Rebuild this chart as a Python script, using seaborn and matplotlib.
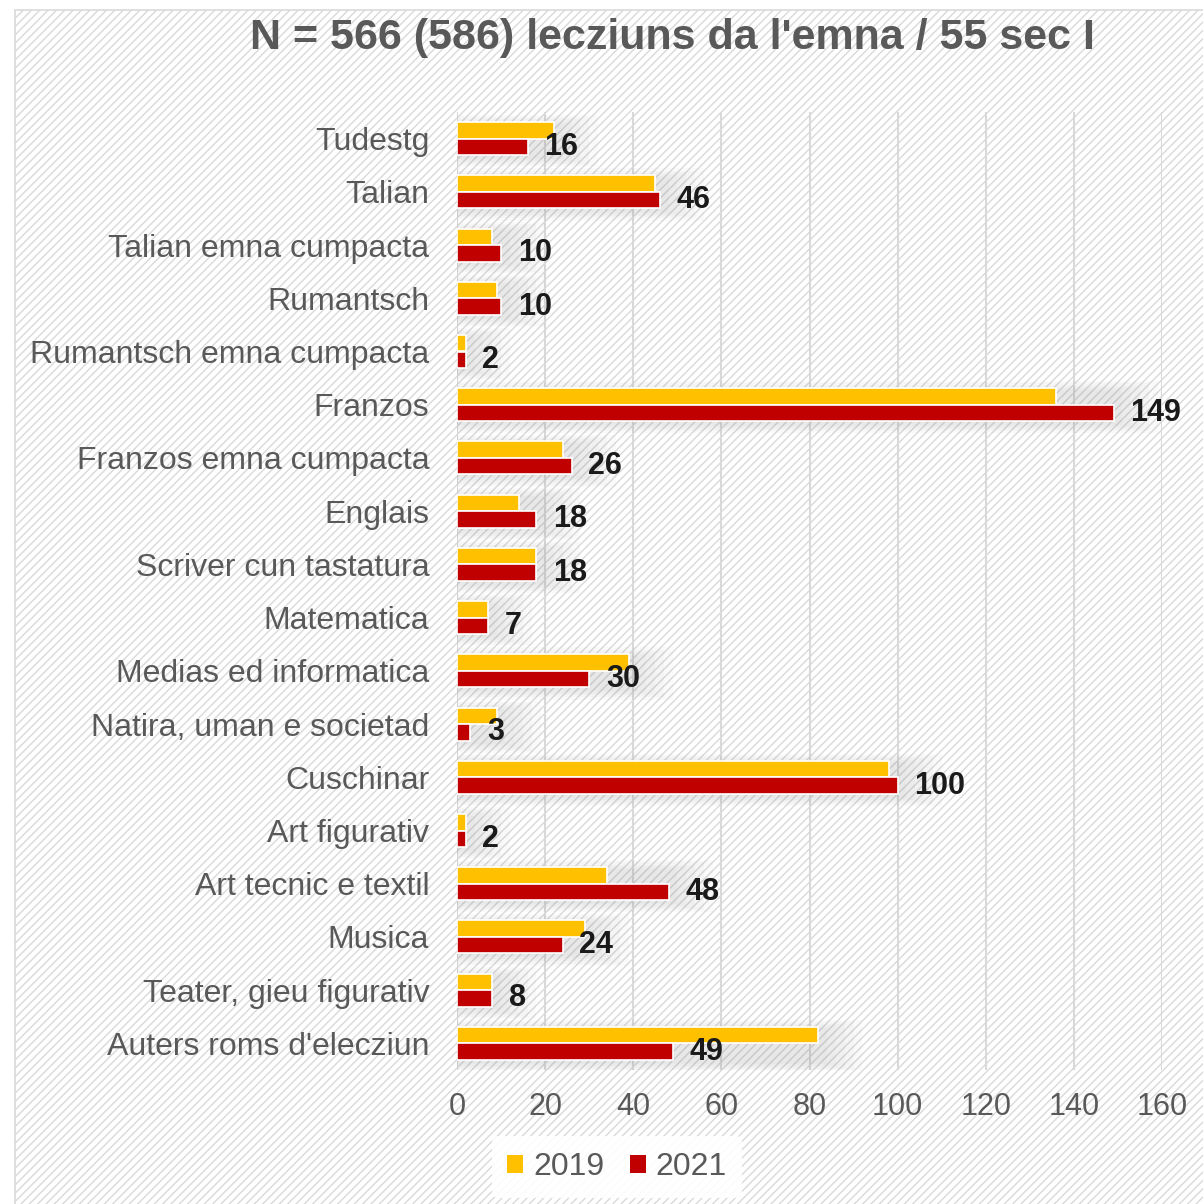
import seaborn as sns
import matplotlib.pyplot as plt
import matplotlib.patches as mpatches
import pandas as pd

categories = [
    "Tudestg", "Talian", "Talian emna cumpacta", "Rumantsch",
    "Rumantsch emna cumpacta", "Franzos", "Franzos emna cumpacta", "Englais",
    "Scriver cun tastatura", "Matematica", "Medias ed informatica",
    "Natira, uman e societad", "Cuschinar", "Art figurativ",
    "Art tecnic e textil", "Musica", "Teater, gieu figurativ",
    "Auters roms d'elecziun",
]
values_2019 = [22, 45, 8, 9, 2, 136, 24, 14, 18, 7, 39, 9, 98, 2, 34, 29, 8, 82]
values_2021 = [16, 46, 10, 10, 2, 149, 26, 18, 18, 7, 30, 3, 100, 2, 48, 24, 8, 49]
years = ["2019", "2021"]
colors = {"2019": "#FFC000", "2021": "#C00000"}
x_ticks = [0, 20, 40, 60, 80, 100, 120, 140, 160]
title = "N = 566 (586) lecziuns da l'emna / 55 sec I"


def main():
    df = pd.DataFrame({
        "fach": categories * 2,
        "year": [years[0]] * len(categories) + [years[1]] * len(categories),
        "value": values_2019 + values_2021,
    })

    sns.set_style("white")
    plt.rcParams["font.family"] = ["Liberation Sans", "DejaVu Sans"]
    plt.rcParams["hatch.linewidth"] = 1.0
    plt.rcParams["hatch.color"] = "#f1f1f1"

    fig = plt.figure(figsize=(12.03, 12.04), dpi=100)
    fig.patch.set_facecolor("white")

    # hatched background + outer frame, in its own axes behind everything
    bg_ax = fig.add_axes([0, 0, 1, 1], zorder=-1)
    bg_ax.set_axis_off()
    bg_ax.set_xlim(0, 1)
    bg_ax.set_ylim(0, 1)
    bg_ax.add_patch(mpatches.Rectangle((15 / 1203, -0.01), 1.0, 1.01 - 10 / 1204,
                                       facecolor="white", edgecolor="#d9d9d9",
                                       hatch="////", lw=1.2))

    ax = fig.add_axes([457 / 1203, 1 - 1070 / 1204, (1162 - 457) / 1203, (1070 - 112) / 1204])
    ax.set_facecolor("none")

    # soft glow behind each bar group
    for i, (a, b) in enumerate(zip(values_2019, values_2021)):
        m = max(a, b)
        for k in range(5):
            ax.add_patch(mpatches.Rectangle((0, i - 0.33 - 0.04 * k + 0.05),
                                            m + 2 + 2.0 * k, 0.66 + 0.08 * k,
                                            facecolor="#7f7f7f", edgecolor="none",
                                            alpha=0.035, zorder=1))

    sns.barplot(data=df, y="fach", x="value", hue="year", palette=colors,
                orient="h", width=0.62, edgecolor="white", linewidth=1.2,
                saturation=1, ax=ax, zorder=3)

    ax.set_xlim(0, 160)
    ax.set_ylim(len(categories) - 0.5, -0.5)
    ax.set_xticks(x_ticks)
    ax.xaxis.grid(True, color="#d9d9d9", lw=1.5, zorder=0)
    ax.set_axisbelow(True)
    for s in ax.spines.values():
        s.set_visible(False)

    ax.tick_params(axis="y", length=0, pad=20, labelsize=23, labelcolor="#595959")
    ax.tick_params(axis="x", length=0, pad=16, labelsize=22, labelcolor="#595959")
    ax.set_xlabel("")
    ax.set_ylabel("")

    # data labels on the 2021 bars
    ax.bar_label(ax.containers[1], labels=[str(v) for v in values_2021],
                 padding=12, fontsize=22, fontweight="bold", color="#1a1a1a")

    fig.text(672 / 1203, 1 - 38 / 1204, title, ha="center", va="center",
             fontsize=31, fontweight="bold", color="#595959")

    handles = [mpatches.Patch(facecolor=colors[y], edgecolor="none") for y in years]
    leg = fig.legend(handles, years, loc="center", bbox_to_anchor=(617 / 1203, 1 - 1167 / 1204),
                     ncol=2, frameon=True, fontsize=23, handlelength=0.5, handleheight=0.5,
                     handletextpad=0.3, columnspacing=0.8, borderpad=0.5)
    leg.get_frame().set_facecolor("white")
    leg.get_frame().set_edgecolor("none")
    leg.get_frame().set_alpha(0.9)
    for t in leg.get_texts():
        t.set_color("#595959")
    if ax.get_legend() is not None:
        ax.get_legend().remove()

    fig.savefig("out.png", dpi=100)


if __name__ == "__main__":
    main()
